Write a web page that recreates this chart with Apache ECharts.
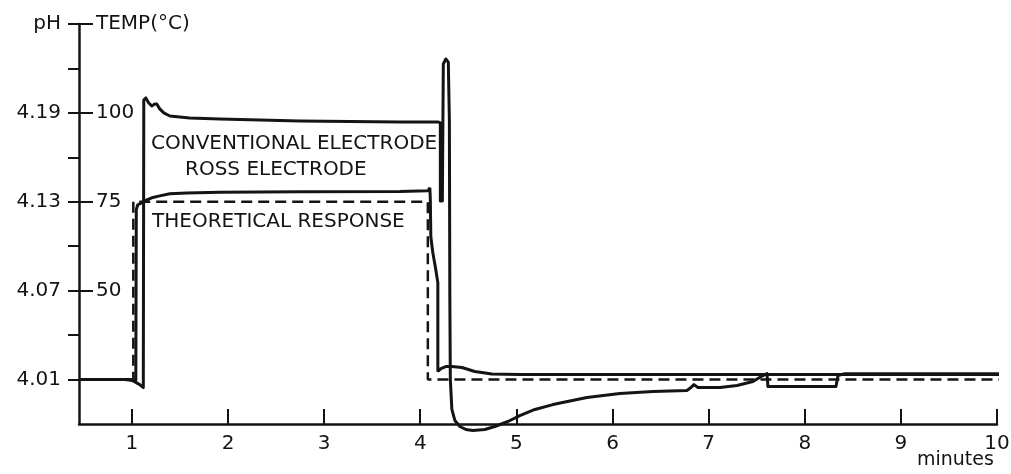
<!DOCTYPE html>
<html>
<head>
<meta charset="utf-8">
<script src="https://cdn.jsdelivr.net/npm/echarts@6/dist/echarts.min.js"></script>
<style>
html,body{margin:0;padding:0;background:#fff;}
#chart{width:1011px;height:474px;}
</style>
</head>
<body>
<div id="chart"></div>
<script>
// time in minutes, values in pH (4.01 pH <-> 25 °C, 0.06 pH <-> 25 °C)
const theoreticalT = [0.45, 1.015, 1.015, 4.079, 4.079, 10.03];
const theoreticalPH = [4.01, 4.01, 4.13, 4.13, 4.01, 4.01];

const rossT = [0.45, 0.978, 1.020, 1.041, 1.046, 1.061, 1.103, 1.155, 1.207, 1.290,
  1.394, 1.571, 1.915, 2.747, 3.788, 4.079, 4.100, 4.105, 4.110, 4.131,
  4.162, 4.183, 4.183, 4.214, 4.266, 4.329, 4.433, 4.568, 4.745, 5.036,
  10.03];
const rossPH = [4.010, 4.010, 4.0093, 4.0093, 4.1246, 4.1280, 4.1293, 4.1313, 4.1327, 4.1340,
  4.1354, 4.1360, 4.1364, 4.1367, 4.1370, 4.1374, 4.1394, 4.1313, 4.1064, 4.0956,
  4.0841, 4.0754, 4.0154, 4.0174, 4.0188, 4.0188, 4.0181, 4.0154, 4.0137, 4.0134,
  4.0134];

const conventionalT = [0.45, 0.926, 1.009, 1.082, 1.119, 1.124, 1.145, 1.176, 1.207, 1.238,
  1.259, 1.290, 1.332, 1.395, 1.602, 1.915, 2.331, 2.747, 3.267, 3.788,
  4.183, 4.209, 4.209, 4.220, 4.230, 4.240, 4.266, 4.292, 4.303, 4.308,
  4.313, 4.329, 4.360, 4.412, 4.475, 4.547, 4.672, 4.776, 4.912, 5.036,
  5.193, 5.380, 5.734, 6.077, 6.420, 6.774, 6.816, 6.847, 6.889, 7.118,
  7.295, 7.461, 7.565, 7.607, 7.617, 8.325, 8.346, 8.418, 10.03];
const conventionalPH = [4.010, 4.010, 4.0093, 4.0066, 4.0046, 4.1987, 4.2001, 4.1967, 4.1947, 4.1960,
  4.1960, 4.1927, 4.1900, 4.1879, 4.1866, 4.1859, 4.1852, 4.1846, 4.1842, 4.1839,
  4.1839, 4.1832, 4.1306, 4.1296, 4.1306, 4.2230, 4.2264, 4.2243, 4.1852, 4.0639,
  4.0100, 3.9898, 3.9824, 3.9783, 3.9763, 3.9756, 3.9763, 3.9783, 3.9817, 3.9857,
  3.9898, 3.9931, 3.9979, 4.0006, 4.0019, 4.0026, 4.0046, 4.0066, 4.0046, 4.0046,
  4.0060, 4.0087, 4.0127, 4.0140, 4.0053, 4.0053, 4.0127, 4.0140, 4.0140];

const xTicks = [1, 2, 3, 4, 5, 6, 7, 8, 9, 10];
const phTicks = [4.01, 4.04, 4.07, 4.10, 4.13, 4.16, 4.19, 4.22, 4.25];
const phLabels = [4.01, 4.07, 4.13, 4.19, 4.25];
const tempTicks = [4.01, 4.07, 4.13, 4.19, 4.25];
const tempLabels = [4.07, 4.13, 4.19, 4.25];
const annotations = ['CONVENTIONAL ELECTRODE', 'ROSS ELECTRODE', 'THEORETICAL RESPONSE'];

const zip = (a, b) => a.map((v, i) => [v, b[i]]);
const INK = '#141414';
const FONT = 'DejaVu Sans';

const chart = echarts.init(document.getElementById('chart'), null, {renderer: 'canvas'});
const phToTemp = v => Math.round(25 + (v - 4.01) / 0.06 * 25);

chart.setOption({
  animation: false,
  backgroundColor: '#fff',
  grid: {left: 79, right: 14, top: 24, bottom: 50, containLabel: false, outerBoundsMode: 'none'},
  xAxis: {
    type: 'value', min: 0.45, max: 10,
    axisLine: {show: true, lineStyle: {color: INK, width: 2.5}},
    axisTick: {show: true, inside: true, length: 15, customValues: xTicks, lineStyle: {color: INK, width: 2}},
    axisLabel: {show: true, customValues: xTicks, margin: 10, color: INK, fontFamily: FONT, fontSize: 20},
    splitLine: {show: false}
  },
  yAxis: [{
    type: 'value', min: 3.98, max: 4.25, position: 'left',
    axisLine: {show: true, lineStyle: {color: INK, width: 2.5}},
    axisTick: {show: true, inside: false, length: 11, customValues: phTicks, lineStyle: {color: INK, width: 2}},
    axisLabel: {show: true, customValues: phLabels, margin: 18, color: INK, fontFamily: FONT, fontSize: 20,
      formatter: v => Math.abs(v - 4.25) < 1e-6 ? 'pH' : v.toFixed(2)},
    splitLine: {show: false}
  }, {
    type: 'value', min: 3.98, max: 4.25, position: 'left', offset: 0,
    axisLine: {show: false},
    axisTick: {show: true, inside: true, length: 14, customValues: tempTicks, lineStyle: {color: INK, width: 2}},
    axisLabel: {show: true, inside: true, customValues: tempLabels, margin: 17, color: INK, fontFamily: FONT, fontSize: 20,
      formatter: v => Math.abs(v - 4.25) < 1e-6 ? 'TEMP(°C)' : String(phToTemp(v))},
    splitLine: {show: false}
  }],
  graphic: [
    {type: 'text', left: 151, top: 134, style: {text: annotations[0], fill: INK, font: '20px "' + FONT + '"'}},
    {type: 'text', left: 185, top: 160, style: {text: annotations[1], fill: INK, font: '20px "' + FONT + '"'}},
    {type: 'text', left: 152, top: 212, style: {text: annotations[2], fill: INK, font: '20px "' + FONT + '"'}},
    {type: 'text', left: 917, top: 451, style: {text: 'minutes', fill: INK, font: '19px "' + FONT + '"'}}
  ],
  series: [{
    name: 'Theoretical response', type: 'line', data: zip(theoreticalT, theoreticalPH),
    showSymbol: false, symbol: 'none', clip: false,
    lineStyle: {color: INK, width: 2.5, type: [11, 6]}
  }, {
    name: 'Ross electrode', type: 'line', data: zip(rossT, rossPH),
    showSymbol: false, symbol: 'none', clip: false,
    lineStyle: {color: INK, width: 3}
  }, {
    name: 'Conventional electrode', type: 'line', data: zip(conventionalT, conventionalPH),
    showSymbol: false, symbol: 'none', clip: false,
    lineStyle: {color: INK, width: 3, join: 'round'}
  }]
});
</script>
</body>
</html>
